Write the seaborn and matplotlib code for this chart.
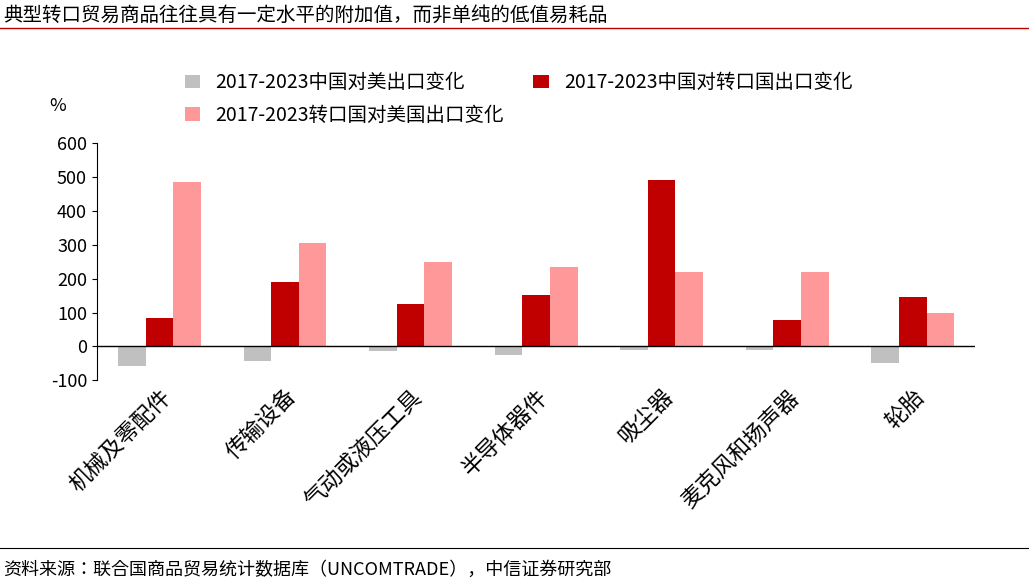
import pandas as pd
import seaborn as sns
import matplotlib.pyplot as plt

plt.rcParams['font.family'] = ['Noto Sans CJK JP', 'Noto Sans CJK SC', 'Noto Sans CJK TC',
                               'Noto Sans CJK KR', 'DejaVu Sans']
plt.rcParams['axes.unicode_minus'] = False

# 数据
categories = ['机械及零配件', '传输设备', '气动或液压工具', '半导体器件', '吸尘器', '麦克风和扬声器', '轮胎']
series_names = ['2017-2023中国对美出口变化', '2017-2023中国对转口国出口变化', '2017-2023转口国对美国出口变化']
cn_us = [-58, -42, -15, -25, -10, -12, -50]
cn_transit = [83, 190, 125, 152, 493, 78, 145]
transit_us = [485, 305, 250, 235, 220, 220, 100]
colors = ['#c0c0c0', '#c00000', '#ff9999']

df = pd.DataFrame({'cat': categories, series_names[0]: cn_us,
                   series_names[1]: cn_transit, series_names[2]: transit_us})
df = df.melt(id_vars='cat', var_name='series', value_name='value')

fig = plt.figure(figsize=(10.29, 5.85), dpi=100)
ax = fig.add_axes([0.094, 0.35, 0.854, 0.405])
sns.barplot(data=df, x='cat', y='value', hue='series', palette=colors,
            hue_order=series_names, ax=ax, width=0.66, saturation=1)

ax.set_ylim(-100, 600)
ax.set_yticks(range(-100, 601, 100))
ax.tick_params(axis='y', labelsize=13, direction='out')
ax.tick_params(axis='x', labelsize=16, rotation=45, length=0)
for lab in ax.get_xticklabels():
    lab.set_ha('right')
    lab.set_rotation_mode('anchor')
ax.set_xlabel('')
ax.set_ylabel('')
for s in ['top', 'right', 'bottom']:
    ax.spines[s].set_visible(False)
ax.axhline(0, color='black', lw=1)
ax.set_xlim(-0.5, 6.5)

h, l = ax.get_legend_handles_labels()
order = [0, 2, 1]
ax.legend([h[i] for i in order], [l[i] for i in order], ncol=2, frameon=False,
          fontsize=14, loc='lower left', bbox_to_anchor=(0.08, 1.0),
          handlelength=0.8, columnspacing=1.5, labelspacing=0.6)
fig.text(0.048, 0.81, '%', fontsize=13)

fig.text(0.003, 0.965, '典型转口贸易商品往往具有一定水平的附加值，而非单纯的低值易耗品', fontsize=14)
fig.add_artist(plt.Line2D([0, 1], [0.952, 0.952], color='#c00000', lw=1))
fig.add_artist(plt.Line2D([0, 1], [0.063, 0.063], color='black', lw=0.8))
fig.text(0.003, 0.018, '资料来源：联合国商品贸易统计数据库（UNCOMTRADE），中信证券研究部', fontsize=13)

fig.savefig('out.png', dpi=100)
